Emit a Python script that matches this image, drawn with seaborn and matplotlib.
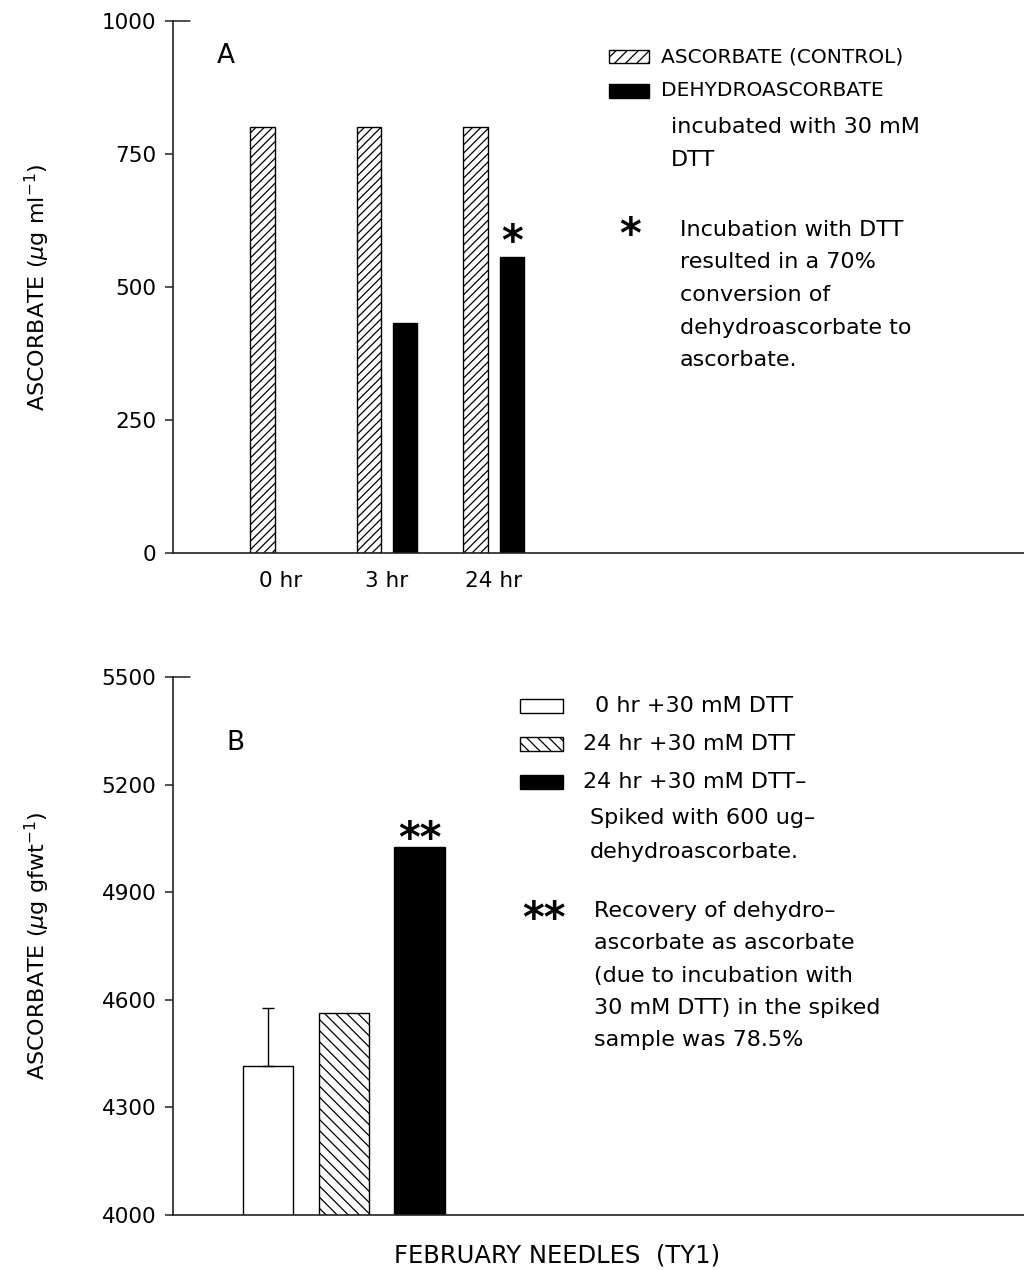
import numpy as np
import pandas as pd
import matplotlib
matplotlib.use("Agg")
import matplotlib.pyplot as plt
from matplotlib.patches import Rectangle
import seaborn as sns

# ---------------- data ----------------
time_labels = ["0 hr", "3 hr", "24 hr"]
ascorbate_control = [800, 800, 800]
dehydroascorbate_dtt = [np.nan, 432, 556]
a_series = ["ASCORBATE (CONTROL)", "DEHYDROASCORBATE"]
a_yticks = [0, 250, 500, 750, 1000]

b_categories = ["0 hr +30 mM DTT", "24 hr +30 mM DTT", "24 hr +30 mM DTT- Spiked"]
b_values = [4415, 4562, 5025]
b_err_upper = [162, 0, 0]
b_yticks = [4000, 4300, 4600, 4900, 5200, 5500]

# ---------------- style ----------------
sns.set_theme(style="white")
plt.rcParams["font.family"] = ["DejaVu Sans"]
plt.rcParams["hatch.linewidth"] = 0.9
plt.rcParams["mathtext.fontset"] = "dejavusans"
for k in ["text.color", "axes.labelcolor", "xtick.color", "ytick.color"]:
    plt.rcParams[k] = "black"

W, H = 1024, 1270
fig = plt.figure(figsize=(W / 100, H / 100), dpi=100)

def fx(px):
    return px / W

def fy(py):
    return 1 - py / H

FS_TICK = 15.5
FS_CAP = 14.5
FS_TXT = 16
FS_STAR = 30

def style_axes(ax):
    sns.despine(ax=ax, top=True, right=True)
    for s in ["left", "bottom"]:
        ax.spines[s].set_color("#222222")
        ax.spines[s].set_linewidth(1.2)
    ax.tick_params(axis="y", which="both", left=True, direction="out", length=6,
                   width=1.1, color="#222222", labelsize=FS_TICK, pad=6)
    ax.plot([0, 0.02], [1, 1], transform=ax.transAxes, color="#222222", lw=1.1, clip_on=False)
    ax.yaxis.set_label_coords((52 - 173) / (1024 - 173), 0.5)

# ---------------- panel A ----------------
axA = fig.add_axes([fx(173), fy(553), fx(1024 - 173), (553 - 21) / H])
dfA = pd.DataFrame({
    "time": time_labels * 2,
    "value": ascorbate_control + dehydroascorbate_dtt,
    "series": [a_series[0]] * 3 + [a_series[1]] * 3,
})
sns.barplot(data=dfA, x="time", y="value", hue="series", order=time_labels,
            hue_order=a_series, palette={a_series[0]: "white", a_series[1]: "black"},
            width=0.68, gap=0.33, edgecolor="black", linewidth=1.0, legend=False, ax=axA)
for p in axA.containers[0]:
    p.set_hatch("////")
    p.set_facecolor("white")
    p.set_edgecolor("black")
axA.set_xlim(-1.01, 6.98)
axA.set_ylim(0, 1000)
axA.set_yticks(a_yticks)
axA.set_xlabel("")
axA.set_ylabel(r"ASCORBATE ($\mu$g ml$^{-1}$)", fontsize=FS_TXT)
axA.tick_params(axis="x", bottom=False, labelsize=FS_TICK, pad=7)
style_axes(axA)
# asterisk above 24 hr dehydroascorbate bar
barA = axA.containers[1][-1]
axA.annotate("*", xy=(barA.get_x() + barA.get_width() / 2, barA.get_height()),
             xytext=(0, 10), textcoords="offset points",
             ha="center", va="center", fontsize=FS_STAR, fontweight="bold")
axA.text(fx(226), fy(56), "A", transform=fig.transFigure, ha="center", va="center", fontsize=19)

# legend A
fig.patches.append(Rectangle((fx(609), fy(63)), fx(40), 13 / H, transform=fig.transFigure,
                             facecolor="white", edgecolor="black", hatch="///", lw=1.0))
fig.patches.append(Rectangle((fx(609), fy(98)), fx(40), 14 / H, transform=fig.transFigure,
                             facecolor="black", edgecolor="black", lw=1.0))
fig.text(fx(661), fy(57), "ASCORBATE (CONTROL)", fontsize=FS_CAP, va="center")
fig.text(fx(661), fy(91), "DEHYDROASCORBATE", fontsize=FS_CAP, va="center")
fig.text(fx(671), fy(127), "incubated with 30 mM", fontsize=FS_TXT, va="center")
fig.text(fx(671), fy(160), "DTT", fontsize=FS_TXT, va="center")
fig.text(fx(630), fy(236), "*", fontsize=FS_STAR, fontweight="bold", ha="center", va="center")
for i, line in enumerate(["Incubation with DTT", "resulted in a 70%", "conversion of",
                          "dehydroascorbate to", "ascorbate."]):
    fig.text(fx(680), fy(230 + 32.5 * i), line, fontsize=FS_TXT, va="center")

# ---------------- panel B ----------------
axB = fig.add_axes([fx(173), fy(1215), fx(1024 - 173), (1215 - 677) / H])
dfB = pd.DataFrame({"cat": b_categories, "value": b_values})
sns.barplot(data=dfB, x="cat", y="value", hue="cat", order=b_categories,
            palette={b_categories[0]: "white", b_categories[1]: "white", b_categories[2]: "black"},
            width=0.67, edgecolor="black", linewidth=1.0, legend=False, ax=axB)
for c in axB.containers:
    for p in c:
        p.set_edgecolor("black")
axB.patches[1].set_hatch("\\\\\\")
axB.errorbar([0], [b_values[0]], yerr=[[0], [b_err_upper[0]]], fmt="none",
             ecolor="black", elinewidth=1.0, capsize=4, capthick=1.0)
axB.set_xlim(-1.25, 9.95)
axB.set_ylim(4000, 5500)
axB.set_yticks(b_yticks)
axB.set_xticks([])
axB.set_xlabel("")
axB.set_ylabel(r"ASCORBATE ($\mu$g gfwt$^{-1}$)", fontsize=FS_TXT)
style_axes(axB)
axB.annotate("**", xy=(2, b_values[2]), xytext=(0, 5), textcoords="offset points",
             ha="center", va="center", fontsize=FS_STAR, fontweight="bold")
axB.text(fx(235), fy(743), "B", transform=fig.transFigure, ha="center", va="center", fontsize=19)

# legend B
fig.patches.append(Rectangle((fx(520), fy(713)), fx(43), 14 / H, transform=fig.transFigure,
                             facecolor="white", edgecolor="black", lw=1.0))
fig.patches.append(Rectangle((fx(520), fy(751)), fx(43), 14 / H, transform=fig.transFigure,
                             facecolor="white", edgecolor="black", hatch="\\\\\\", lw=1.0))
fig.patches.append(Rectangle((fx(520), fy(789)), fx(43), 14 / H, transform=fig.transFigure,
                             facecolor="black", edgecolor="black", lw=1.0))
fig.text(fx(595), fy(706), "0 hr +30 mM DTT", fontsize=FS_TXT, va="center")
fig.text(fx(583), fy(744), "24 hr +30 mM DTT", fontsize=FS_TXT, va="center")
fig.text(fx(583), fy(782), "24 hr +30 mM DTT\u2013", fontsize=FS_TXT, va="center")
fig.text(fx(590), fy(818), "Spiked with 600 ug\u2013", fontsize=FS_TXT, va="center")
fig.text(fx(590), fy(852), "dehydroascorbate.", fontsize=FS_TXT, va="center")
fig.text(fx(544), fy(920), "**", fontsize=FS_STAR, fontweight="bold", ha="center", va="center")
for i, line in enumerate(["Recovery of dehydro\u2013", "ascorbate as ascorbate",
                          "(due to incubation with", "30 mM DTT) in the spiked",
                          "sample was 78.5%"]):
    fig.text(fx(594), fy(911 + 32.3 * i), line, fontsize=FS_TXT, va="center")

fig.text(fx(557), fy(1255), "FEBRUARY NEEDLES  (TY1)", fontsize=17.5, ha="center", va="center")

fig.savefig("out.png", dpi=100)
